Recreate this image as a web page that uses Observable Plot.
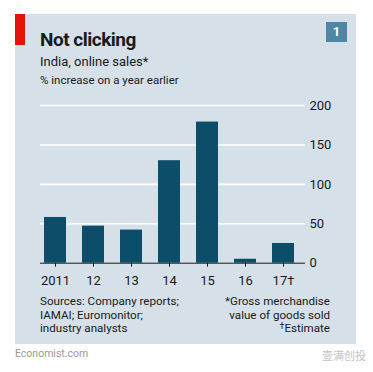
<!DOCTYPE html>
<html>
<head>
<meta charset="utf-8">
<script src="https://cdn.jsdelivr.net/npm/d3@7"></script>
<script src="https://cdn.jsdelivr.net/npm/@observablehq/plot@0.6"></script>
<style>
  html, body { margin: 0; padding: 0; background: #fff; }
  #root { position: relative; width: 373px; height: 372px; overflow: hidden; font-family: Roboto, "Noto Sans", sans-serif; color: #1a1a1a; }
  .abs { position: absolute; white-space: nowrap; }
  #panel { left: 15px; top: 14px; width: 341px; height: 330px; background: #d5e0e8; }
  #redbar { left: 15px; top: 14px; width: 10px; height: 31px; background: #e3120b; }
  #title { left: 40px; top: 30px; font-size: 19px; line-height: 19px; font-weight: 700; letter-spacing: -0.5px; }
  #sub { left: 40px; top: 55px; font-size: 13px; line-height: 13px; }
  #unit { left: 40px; top: 75px; font-size: 11.5px; line-height: 11.5px; }
  #badge { left: 326px; top: 22px; width: 21px; height: 20px; background: #4f86a3; color: #fff; font-weight: 700; font-size: 13px; line-height: 20px; text-align: center; }
  .note { font-size: 11.6px; line-height: 13.5px; }
  .dag { font-size: 9px; position: relative; top: -3px; }
  #brand { left: 15px; top: 349px; font-size: 10.5px; line-height: 10.5px; color: #9a9a9a; }
  #wm { left: 322px; top: 350px; font-size: 11px; line-height: 11px; color: #c4c4c4; font-family: "Noto Sans CJK SC", sans-serif; }
  #chart { left: 0; top: 0; }
</style>
</head>
<body>
<div id="root">
  <div id="panel" class="abs"></div>
  <div id="redbar" class="abs"></div>
  <div id="title" class="abs">Not clicking</div>
  <div id="sub" class="abs">India, online sales*</div>
  <div id="unit" class="abs">% increase on a year earlier</div>
  <div id="badge" class="abs">1</div>
  <div id="chart" class="abs"></div>
  <div class="abs note" style="left:40px;top:295px">Sources: Company reports;</div>
  <div class="abs note" style="left:40px;top:308.5px">IAMAI; Euromonitor;</div>
  <div class="abs note" style="left:40px;top:322px">industry analysts</div>
  <div class="abs note" style="right:43px;top:295px;text-align:right">*Gross merchandise</div>
  <div class="abs note" style="right:43px;top:308.5px;text-align:right">value of goods sold</div>
  <div class="abs note" style="right:43px;top:322px;text-align:right"><span class="dag">†</span>Estimate</div>
  <div id="brand" class="abs">Economist.com</div>
  <div id="wm" class="abs">壹满创投</div>
</div>
<script>
const years = ["2011", "12", "13", "14", "15", "16", "17†"];
const growth = [58, 47, 42, 130, 179, 5, 25];
const yTicks = [0, 50, 100, 150, 200];

const data = years.map((y, i) => ({year: y, value: growth[i]}));

const chart = Plot.plot({
  width: 373,
  height: 300,
  marginTop: 105,
  marginBottom: 37.3,
  marginLeft: 40,
  marginRight: 68,
  style: {background: "transparent", fontFamily: "Roboto, 'Noto Sans', sans-serif", color: "#1a1a1a"},
  x: {domain: years, range: [42.7, 295], paddingInner: 0.41, paddingOuter: 0, label: null},
  y: {domain: [0, 200], label: null},
  marks: [
    Plot.gridY(yTicks.filter(d => d > 0), {stroke: "#ffffff", strokeOpacity: 1, strokeWidth: 1.6}),
    Plot.barY(data, {x: "year", y: "value", fill: "#0c4d6a"}),
    Plot.ruleY([0], {stroke: "#1a1a1a", strokeWidth: 1}),
    Plot.axisY(yTicks, {anchor: "right", tickSize: 0, tickPadding: 4, fontSize: 13, label: null}),
    Plot.axisX({tickSize: 4, tickPadding: 9, fontSize: 13, label: null, stroke: "#1a1a1a"})
  ]
});
document.getElementById("chart").appendChild(chart);
</script>
</body>
</html>
